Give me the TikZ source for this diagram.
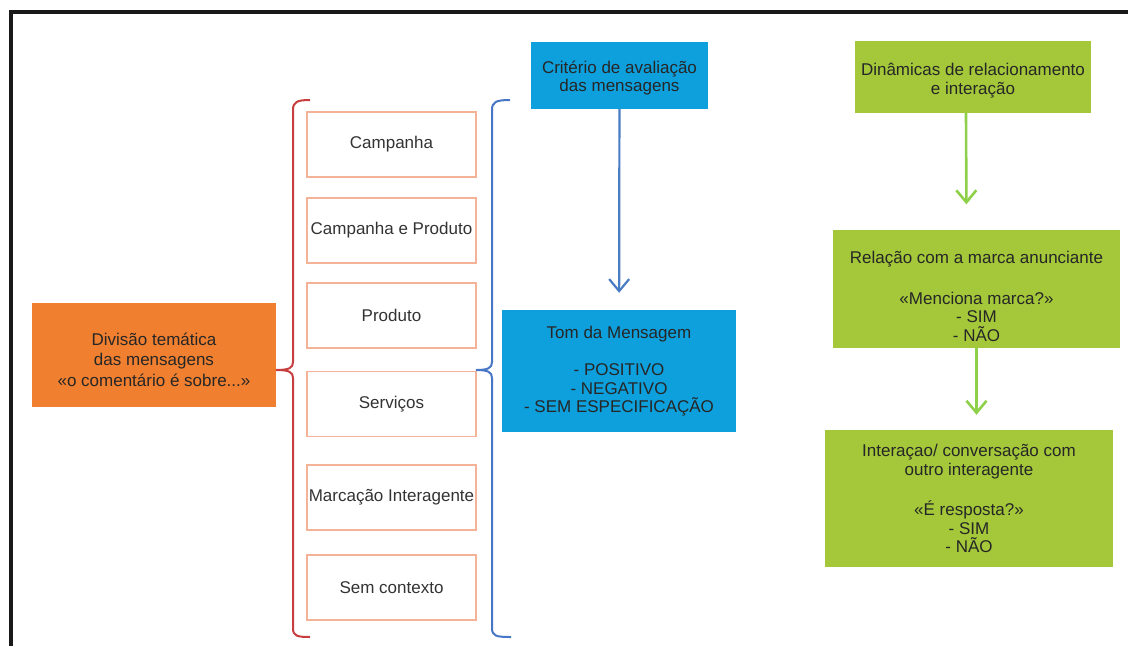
\documentclass[tikz,border=0pt]{standalone}
\usepackage{fontspec}
\setmainfont{Liberation Sans}
\usetikzlibrary{arrows.meta}

\definecolor{temaorange}{RGB}{240,128,48}
\definecolor{temaline}{RGB}{244,178,150}
\definecolor{critblue}{RGB}{14,160,220}
\definecolor{dinagreen}{RGB}{164,200,58}
\definecolor{bracered}{RGB}{200,62,62}
\definecolor{braceblue}{RGB}{72,118,198}
\definecolor{arrowblue}{RGB}{74,124,196}
\definecolor{arrowgreen}{RGB}{142,208,74}

\begin{document}
\begin{tikzpicture}[x=1pt,y=-1pt,
  every node/.style={font=\fontsize{17}{18.5}\selectfont,align=center,inner sep=0pt},
  temabox/.style={draw=temaline,line width=1.2pt,fill=white,text=black!80,
    minimum width=169pt,minimum height=65pt},
  mainbox/.style={fill=temaorange,text=black!85,minimum width=244pt,minimum height=104pt},
  critbox/.style={fill=critblue,text=black!85},
  dinabox/.style={fill=dinagreen,text=black!85},
  bluearrow/.style={draw=arrowblue,line width=2.2pt,-{Straight Barb[length=12pt,width=20pt]}},
  greenarrow/.style={draw=arrowgreen,line width=2.6pt,-{Straight Barb[length=12pt,width=20pt]}}]

  \useasboundingbox (0,0) rectangle (1128,646);
  \draw[line width=4pt,black!90] (11,646) -- (11,12) -- (1128,12);

  \node[mainbox] (divisao) at (154,355)
    {\rule{0pt}{22pt}Divisão temática\\[2pt]das mensagens\\[2pt]«o comentário é sobre...»};

  \node[temabox] (campanha) at (391.5,144.5) {Campanha};
  \node[temabox] (campprod) at (391.5,230.5) {Campanha e Produto};
  \node[temabox] (produto) at (391.5,315.5) {Produto};
  \node[temabox] (servicos) at (391.5,404) {Serviços};
  \node[temabox] (marcacao) at (391.5,497.5) {Marcação Interagente};
  \node[temabox] (semcont) at (391.5,587.5) {Sem contexto};

  % chavetas
  \draw[bracered,line width=2pt] (310,100) .. controls (297,100) and (293,102) .. (293,110)
    -- (293,362) .. controls (293,368) and (289,370) .. (276,370)
    .. controls (289,370) and (293,372) .. (293,378) -- (293,628)
    .. controls (293,636) and (297,637) .. (310,637);
  \draw[braceblue,line width=2pt] (510,100) .. controls (496,100) and (492,102) .. (492,110)
    -- (492,362) .. controls (492,368) and (488,370) .. (476,370)
    .. controls (488,370) and (492,372) .. (492,378) -- (492,628)
    .. controls (492,636) and (496,637) .. (511,637);

  \node[critbox,minimum width=177pt,minimum height=67pt] (criterio) at (619.5,75.5)
    {\rule{0pt}{18pt}Critério de avaliação\\das mensagens};
  \node[critbox,minimum width=234pt,minimum height=122pt] (tom) at (619,371)
    {Tom da Mensagem\\[19pt]- POSITIVO\\- NEGATIVO\\- SEM ESPECIFICAÇÃO};

  \node[dinabox,minimum width=236pt,minimum height=72pt] (dinamicas) at (973,77)
    {\rule{0pt}{20pt}Dinâmicas de relacionamento\\e interação};
  \node[dinabox,minimum width=287pt,minimum height=118pt] (relacao) at (976.5,288.5)
    {\rule{0pt}{28pt}Relação com a marca anunciante\\[22pt]«Menciona marca?»\\- SIM\\- NÃO};
  \node[dinabox,minimum width=288pt,minimum height=137pt] (interacao) at (969,498.5)
    {Interaçao/ conversação com\\outro interagente\\[22pt]«É resposta?»\\- SIM\\- NÃO};

  \draw[bluearrow,shorten >=17pt] (criterio) -- (tom);
  \draw[greenarrow,shorten >=25pt] ([xshift=-7pt]dinamicas.south) -- ([xshift=-10pt]relacao.north);
  \draw[greenarrow,shorten >=15pt] (relacao.south) -- ([xshift=7.5pt]interacao.north);
\end{tikzpicture}
\end{document}
